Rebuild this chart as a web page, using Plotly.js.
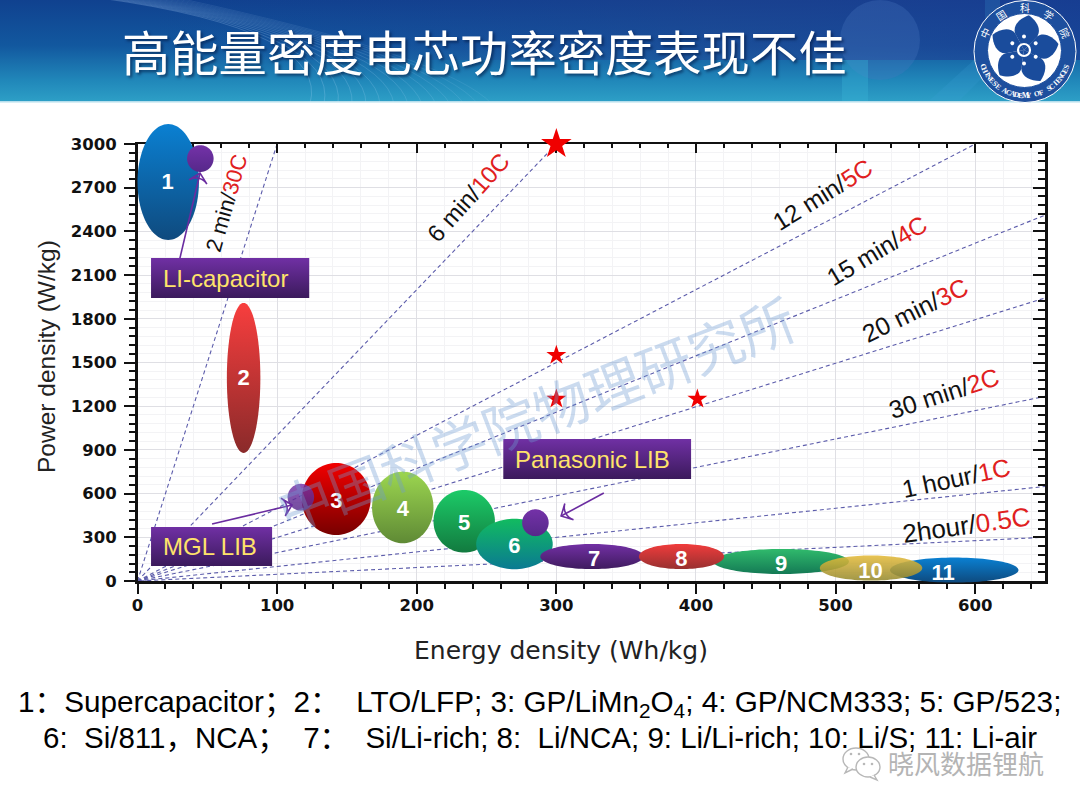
<!DOCTYPE html>
<html><head><meta charset="utf-8">
<script src="https://cdn.plot.ly/plotly-3.0.1.min.js"></script>
<style>html,body{margin:0;padding:0;background:#fff}#c{width:1080px;height:810px}</style>
</head><body><div id="c"></div>
<script>
// ---- values ----
const rateNames = ['2 min/','6 min/','12 min/','15 min/','20 min/','30 min/','1 hour/','2hour/'];
const rateC     = ['30C','10C','5C','4C','3C','2C','1C','0.5C'];
const rateStartX= [0,0,0,0,0,0,0,-8];
const rateStartY= [0,0,0,0,0,0,0,-4];
const rateEndX  = [100,300,600,650,650,658,653,654];
const rateEndY  = [3000,3000,3000,2512,1943,1283,652,302];
const rateLabelX= [63.4,237,491,530,557,578,586,594];
const rateLabelY= [2595,2630,2650,2270,1860,1290,710,385];
const rateLabelA= [-74,-48,-32,-31,-26,-18,-12,-8];
const rateLabelS= [22,24,24.5,24.5,25,25,25,26];

const cellNo = ['1','2','3','4','5','6','7','8','9','10','11'];
const cellX  = [22,76,142.3,190,234,270,325.5,389.6,461,525.4,585];
const cellY  = [2739,1394,563,505,410,254,168,168,134,89,75];
const cellRx = [22,12,24.7,22,22,27.4,37,30.5,48.6,36.7,46];
const cellRy = [398,515,247,246,215,173,86,86,86,86,86];
const cellTop= ['#0a80d2','#f83e3e','#f20000','#9cd650','#1ccb68','#12bb60','#7230a4','#f03c3c','#30ba6c','#e6bc3c','#0a80d2'];
const cellBot= ['#0f4a7e','#8a2a2a','#780000','#5f8a35','#127a3f','#0a7a92','#3f1b5f','#983030','#147a55','#958a30','#0e4a7e'];
const cellOrder=[0,1,2,3,4,5,6,8,7,10,9];
const cellOpacity=[1,1,1,1,1,1,1,1,1,0.88,1];
const numX = [21.5,76,142.5,190,234,270,327,389.6,461,525,577];
const numY = [2731,1381,536,481,391,231,144,144,108,61,48];

const libX=[45,117,285], libY=[2900,575,400], libRx=[9.5,9.5,9.5], libRy=[92,92,92];
const libOpacity=[1,0.82,1];

const starX=[300,300,300,401], starY=[3000,1550,1250,1250], starSize=[23,15,15,15];

const arrowFromX=[30.4,53.4,334], arrowFromY=[2217,391,604];
const arrowToX=[44.8,110.7,303.4], arrowToY=[2801,522,446];

const boxText=['LI-capacitor','MGL LIB','Panasonic LIB'];
const boxX0=[9.7,9.7,262], boxX1=[123,96.4,396.5];
const boxY0=[1943,103,700], boxY1=[2217,371,975];
const boxTextX=[62.7,51.6,325.7], boxTextY=[2080,237,837];

const xTitle='Energy density (Wh/kg)', yTitle='Power density (W/kg)';
const pageTitle='高能量密度电芯功率密度表现不佳';
const caption1='1：Supercapacitor；2：  LTO/LFP; 3: GP/LiMn<sub>2</sub>O<sub>4</sub>; 4: GP/NCM333; 5: GP/523;';
const caption2='6:  Si/811，NCA；  7：  Si/Li-rich; 8:  Li/NCA; 9: Li/Li-rich; 10: Li/S; 11: Li-air';
const watermark='中国科学院物理研究所';
const credit='晓风数据锂航';
const ringTop=['中','国','科','学','院'];
const ringBottom='CHINESE ACADEMY OF SCIENCES';

// ---- layout frame ----
const L=137.5,R=35,T=144,B=229,W=1080,H=810;
const sx=(W-L-R)/650, sy=(H-T-B)/3000;
const px=x=>x/W, py=y=>(H-y)/H;
const font='"Liberation Sans","Noto Sans CJK SC",sans-serif';

function outline(cx,cy,rx,ry){
  const xs=[],ys=[];
  for(let i=0;i<=96;i++){const a=i/96*2*Math.PI;xs.push(cx+rx*Math.cos(a));ys.push(cy+ry*Math.sin(a));}
  return [xs,ys];
}
const grad=(top,bot)=>({type:'vertical',colorscale:[[0,bot],[1,top]]});
const traces=[];
const onTop={xaxis:'x3',yaxis:'y3',showlegend:false,hoverinfo:'skip',cliponaxis:false};
// rate lines
rateEndX.forEach((ex,i)=>traces.push({x:[rateStartX[i],ex],y:[rateStartY[i],rateEndY[i]],mode:'lines',cliponaxis:false,
  line:{color:'#5c5cab',width:1.1,dash:'4px,3px'},showlegend:false,hoverinfo:'skip'}));
// stars
traces.push(Object.assign({x:starX,y:starY,mode:'markers',
  marker:{symbol:'star',color:'#f00000',size:starSize,opacity:1,line:{width:0}}},onTop));
// ellipses
cellOrder.forEach(i=>{const [xs,ys]=outline(cellX[i],cellY[i],cellRx[i],cellRy[i]);
  traces.push(Object.assign({x:xs,y:ys,mode:'none',fill:'toself',opacity:cellOpacity[i],
    fillgradient:grad(cellTop[i],cellBot[i])},onTop));});
// purple dots
libX.forEach((cx,i)=>{const [xs,ys]=outline(cx,libY[i],libRx[i],libRy[i]);
  traces.push(Object.assign({x:xs,y:ys,mode:'none',fill:'toself',opacity:libOpacity[i],
    fillgradient:grad('#7432a8','#56288a')},onTop));});
// arrows
arrowToX.forEach((tx,i)=>traces.push(Object.assign({x:[arrowFromX[i],tx],y:[arrowFromY[i],arrowToY[i]],mode:'lines+markers',
  line:{color:'#6a2ca0',width:1.6},
  marker:{symbol:['circle','arrow-wide-open'],size:[0,13],opacity:1,angleref:'previous',color:'#6a2ca0',line:{color:'#6a2ca0',width:1.6}}},onTop)));
// purple boxes
boxText.forEach((t,i)=>traces.push(Object.assign({x:[boxX0[i],boxX1[i],boxX1[i],boxX0[i],boxX0[i]],
  y:[boxY0[i],boxY0[i],boxY1[i],boxY1[i],boxY0[i]],mode:'none',fill:'toself',
  fillgradient:grad('#7030a4','#3b1a5c')},onTop)));
// numbers
traces.push(Object.assign({x:numX,y:numY,text:cellNo,mode:'text',
  textfont:{family:font,size:22,color:'#ffffff',weight:'bold'},textposition:'middle center'},onTop));
// dummy trace to show the top/right axes
traces.push({x:[0],y:[0],xaxis:'x2',yaxis:'y2',mode:'markers',marker:{opacity:0},showlegend:false,hoverinfo:'skip'});

const ann=[];
const A=(o)=>ann.push(Object.assign({showarrow:false,xref:'paper',yref:'paper',xanchor:'center',yanchor:'middle'},o));
rateNames.forEach((n,i)=>ann.push({x:rateLabelX[i],y:rateLabelY[i],xref:'x',yref:'y',showarrow:false,
  text:n+'<span style="color:#e02020">'+rateC[i]+'</span>',textangle:rateLabelA[i],
  font:{family:font,size:rateLabelS[i],color:'#111'}}));
boxText.forEach((t,i)=>ann.push({x:boxTextX[i],y:boxTextY[i],xref:'x',yref:'y',showarrow:false,
  text:t,font:{family:font,size:24,color:'#ffe36a'}}));
A({x:px(561),y:py(650),text:xTitle,font:{family:'"DejaVu Sans"',size:25,color:'#222'}});
A({x:px(46),y:py(357),text:yTitle,textangle:-90,font:{family:font,size:24.5,color:'#222'}});
A({x:px(484),y:py(50),text:pageTitle,font:{family:'"Noto Sans CJK SC"',size:48.3,color:'#fff',shadow:'2px 2px 3px rgba(0,20,60,.6)'}});
A({x:px(539),y:py(703),text:caption1,font:{family:font,size:29.7,color:'#000'}});
A({x:px(540),y:py(737),text:caption2,font:{family:font,size:29.5,color:'#000'}});
A({x:px(535),y:py(412),text:watermark,textangle:-21,font:{family:'"Noto Sans CJK SC"',size:55,color:'rgba(110,155,210,.36)'}});
A({x:px(966),y:py(762),text:credit,font:{family:'"Noto Sans CJK SC"',size:26,color:'#b4b4b4',shadow:'1px 1px 0 #fff'}});
// logo ring lettering
const lcx=1025,lcy=51.5,lr=44;
ringTop.forEach((c,i)=>{const deg=-65+i*32.5,a=deg*Math.PI/180;
  A({x:px(lcx+lr*Math.sin(a)),y:py(lcy-lr*Math.cos(a)),text:c,textangle:deg,font:{family:'"Noto Sans CJK SC"',size:10,color:'#fff'}});});
[...ringBottom].forEach((c,i)=>{ if(c===' ')return; const n=ringBottom.length,deg=(i-(n-1)/2)*5.4,a=deg*Math.PI/180;
  A({x:px(lcx+lr*Math.sin(a)),y:py(lcy+lr*Math.cos(a)),text:c,textangle:-deg,font:{family:'"Liberation Serif"',size:7.5,color:'#fff',weight:'bold'}});});

// banner artwork
let petals='';
[8,80,152,224,296].forEach(d=>{petals+=`<path transform="rotate(${d} 1024 50)" d="M1024 50 L1013 35 C1009 27 1016 19 1024 15 C1032 19 1039 27 1035 35 Z" fill="#1a4c9c"/>`;});
let dots='';
[0,60,120,180,240,300].forEach(d=>{dots+=`<circle transform="rotate(${d} 1024 50)" cx="1024" cy="36.5" r="2" fill="#fff"/>`;});
let arcs='';
for(let i=0;i<14;i++){arcs+=`<path d="M${100+i*6} ${-2} Q ${330+i*9} ${30+i*2} ${310+i*14} 104" fill="none" stroke="#bfe0ff" stroke-opacity="${0.28-i*0.012}" stroke-width="0.8"/>`;}
const bannerSvg=`<svg xmlns="http://www.w3.org/2000/svg" width="1080" height="103" viewBox="0 0 1080 103">
<defs><linearGradient id="g" x1="0" y1="0" x2="0" y2="1"><stop offset="0" stop-color="#10418f"/><stop offset=".45" stop-color="#12589f"/><stop offset=".8" stop-color="#2188ba"/><stop offset="1" stop-color="#2d9fc6"/></linearGradient>
<linearGradient id="h" x1="0" y1="0" x2="1" y2="0"><stop offset="0" stop-color="#1b3b93" stop-opacity="0"/><stop offset=".6" stop-color="#25408f" stop-opacity=".55"/><stop offset="1" stop-color="#1b3b93" stop-opacity=".8"/></linearGradient></defs>
<rect width="1080" height="101.5" fill="url(#g)"/><rect x="150" width="930" height="60" fill="url(#h)" opacity=".8"/>
<ellipse cx="880" cy="40" rx="40" ry="40" fill="#4a78c0" opacity=".3"/>
<path d="M1000 0 L1000 60 L960 100 L930 100 L985 50 L985 0Z" fill="#3aa0d8" opacity=".2"/>
<rect x="842" y="60" width="26" height="41" fill="#3ab4d8" opacity=".35"/>
${arcs}
<rect y="101.5" width="1080" height="1.5" fill="#d8eef5"/>
<circle cx="1025" cy="51.5" r="51" fill="#1d4f9e" stroke="#fff" stroke-width="1"/>
<circle cx="1024.5" cy="50.5" r="37" fill="#fff" stroke="#1d4f9e" stroke-width="1"/>
${petals}${dots}
<circle cx="1024" cy="50" r="6" fill="none" stroke="#fff" stroke-width="2.2"/></svg>`;
const iconSvg=`<svg xmlns="http://www.w3.org/2000/svg" width="44" height="40" viewBox="0 0 44 40">
<g fill="#fff" stroke="#b8b8b8" stroke-width="1.4"><ellipse cx="16" cy="15" rx="13" ry="11"/><path d="M8 23 L5 29 L13 25"/><ellipse cx="28" cy="23" rx="12" ry="10"/><path d="M34 31 L37 36 L30 33"/></g>
<g fill="#b8b8b8"><circle cx="11" cy="10" r="1.3"/><circle cx="19" cy="10" r="1.3"/><circle cx="24" cy="20" r="1.3"/><circle cx="32" cy="20" r="1.3"/></g></svg>`;
const uri=s=>'data:image/svg+xml;charset=utf-8,'+encodeURIComponent(s);

const domX=[L/W,(W-R)/W], domY=[B/H,(H-T)/H];
const xBase={range:[0,650],domain:domX,tick0:0,dtick:100,showline:true,linecolor:'#111',linewidth:2.5,zeroline:false};
const yBase={range:[0,3000],domain:domY,tick0:0,dtick:300,showline:true,linecolor:'#111',linewidth:2.5,zeroline:false};
const tickFont={family:'"DejaVu Sans"',size:16.5,color:'#111',weight:'bold'};
const layout={
  width:W,height:H,margin:{l:0,r:0,t:0,b:0,pad:0},paper_bgcolor:'#fff',plot_bgcolor:'rgba(0,0,0,0)',showlegend:false,
  xaxis:Object.assign({},xBase,{ticks:'outside',ticklen:10,tickwidth:2,tickcolor:'#111',tickfont:tickFont,ticklabelstandoff:-2,
    showgrid:true,gridcolor:'#dfdfe4',gridwidth:1,
    minor:{dtick:20,tick0:0,ticks:'outside',ticklen:5,tickwidth:2,tickcolor:'#111',showgrid:true,gridcolor:'#f3f3f5',gridwidth:1}}),
  yaxis:Object.assign({},yBase,{ticks:'outside',ticklen:11,tickwidth:2,tickcolor:'#111',tickfont:tickFont,ticklabelstandoff:4,
    showgrid:true,gridcolor:'#dfdfe4',gridwidth:1,
    minor:{dtick:60,tick0:0,ticks:'outside',ticklen:6,tickwidth:2,tickcolor:'#111',showgrid:true,gridcolor:'#f3f3f5',gridwidth:1}}),
  xaxis2:Object.assign({},xBase,{overlaying:'x',side:'top',anchor:'y2',ticks:'inside',ticklen:9,tickwidth:2,tickcolor:'#111',showticklabels:false,showgrid:false,
    minor:{dtick:20,tick0:0,ticks:'inside',ticklen:4,tickwidth:2,tickcolor:'#111',showgrid:false}}),
  yaxis2:Object.assign({},yBase,{overlaying:'y',side:'right',anchor:'x2',ticks:'inside',ticklen:12,tickwidth:2,tickcolor:'#111',showticklabels:false,showgrid:false,
    minor:{dtick:60,tick0:0,ticks:'inside',ticklen:7,tickwidth:2,tickcolor:'#111',showgrid:false}}),
  // same scale as the main axes, wider window, so the bubbles that cross the frame are not cut off
  xaxis3:{visible:false,domain:[0,1],range:[-L/sx,(W-L)/sx],anchor:'y3',fixedrange:true},
  yaxis3:{visible:false,domain:[0,1],range:[-B/sy,(H-B)/sy],anchor:'x3',fixedrange:true},
  images:[
    {source:uri(bannerSvg),xref:'paper',yref:'paper',x:px(0),y:py(0),sizex:1,sizey:103/H,sizing:'stretch',xanchor:'left',yanchor:'top',layer:'below'},
    {source:uri(iconSvg),xref:'paper',yref:'paper',x:px(840),y:py(744),sizex:44/W,sizey:40/H,sizing:'stretch',xanchor:'left',yanchor:'top',layer:'above'}
  ],
  annotations:ann
};
Plotly.newPlot('c',traces,layout,{displayModeBar:false,staticPlot:true});
</script></body></html>
